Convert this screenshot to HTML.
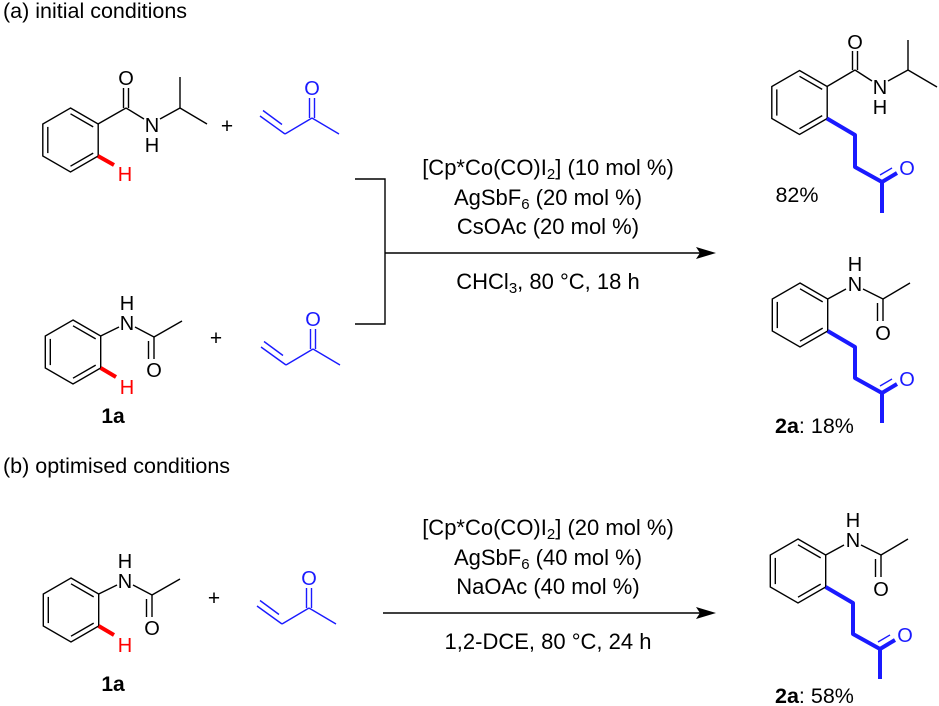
<!DOCTYPE html>
<html><head><meta charset="utf-8"><style>
html,body{margin:0;padding:0;background:#fff;}
svg{display:block;font-family:"Liberation Sans",Arial,sans-serif;}
</style></head><body>
<svg width="939" height="706" viewBox="0 0 939 706" xmlns="http://www.w3.org/2000/svg">
<defs>
<g id="ring" fill="none" stroke="#000" stroke-width="1.4">
<polygon points="0,-32 27.7,-16 27.7,16 0,32 -27.7,16 -27.7,-16"/>
<line x1="0" y1="-26.2" x2="22.7" y2="-13.1"/>
<line x1="22.7" y1="13.1" x2="0" y2="26.2"/>
<line x1="-22.7" y1="13.1" x2="-22.7" y2="-13.1"/>
</g>
<g id="mvk">
<g stroke="#1a1aff" stroke-width="1.4" fill="none">
<line x1="260" y1="116" x2="285" y2="134"/>
<line x1="263" y1="110.5" x2="282" y2="124.5"/>
<line x1="285" y1="134" x2="312" y2="118"/>
<line x1="309.5" y1="118" x2="309.5" y2="98"/>
<line x1="314.5" y1="118" x2="314.5" y2="98"/>
<line x1="312" y1="118" x2="339" y2="134"/>
</g>
<text x="312" y="95" font-size="20" fill="#1a1aff" text-anchor="middle">O</text>
</g>
<g id="acet">
<use href="#ring" x="73" y="352"/>
<g stroke="#000" stroke-width="1.4" fill="none">
<line x1="100.7" y1="336" x2="119" y2="327"/>
<line x1="135" y1="327" x2="154" y2="337"/>
<line x1="154" y1="337" x2="154" y2="359"/>
<line x1="148.5" y1="341" x2="148.5" y2="359"/>
<line x1="154" y1="337" x2="182" y2="321"/>
</g>
<line x1="100.7" y1="368" x2="116" y2="377" stroke="#ff0000" stroke-width="4"/>
<text x="127" y="330" font-size="20" text-anchor="middle">N</text>
<text x="127" y="310" font-size="20" text-anchor="middle">H</text>
<text x="154" y="377" font-size="20" text-anchor="middle">O</text>
<text x="127" y="394" font-size="20" text-anchor="middle" fill="#ff0000">H</text>
</g>
<g id="prod2a">
<use href="#ring" x="800" y="315"/>
<g stroke="#000" stroke-width="1.4" fill="none">
<line x1="827.7" y1="299" x2="846" y2="289"/>
<line x1="863" y1="289" x2="883" y2="299"/>
<line x1="883" y1="299" x2="883" y2="321"/>
<line x1="877.5" y1="303" x2="877.5" y2="321"/>
<line x1="883" y1="299" x2="910" y2="283"/>
</g>
<text x="855" y="291" font-size="20" text-anchor="middle">N</text>
<text x="855" y="271" font-size="20" text-anchor="middle">H</text>
<text x="883" y="340" font-size="20" text-anchor="middle">O</text>
<polyline points="827.7,331 855,347 855,378 882,393 882,423" fill="none" stroke="#1a1aff" stroke-width="4" stroke-linejoin="round"/>
<line x1="882" y1="393" x2="897" y2="384" stroke="#1a1aff" stroke-width="4"/>
<line x1="880" y1="386" x2="892" y2="379" stroke="#1a1aff" stroke-width="1.4"/>
<text x="907" y="386" font-size="20" text-anchor="middle" fill="#1a1aff">O</text>
</g>
</defs>

<text x="3" y="18" font-size="21.5">(a) initial conditions</text>
<text x="3" y="473" font-size="21.5">(b) optimised conditions</text>

<use href="#ring" x="70.5" y="140"/>
<g stroke="#000" stroke-width="1.4" fill="none">
<line x1="98" y1="124" x2="126" y2="108"/>
<line x1="123.5" y1="108" x2="123.5" y2="88"/>
<line x1="128.5" y1="108" x2="128.5" y2="88"/>
<line x1="126" y1="108" x2="144" y2="119"/>
<line x1="160" y1="119" x2="180" y2="108"/>
<line x1="180" y1="108" x2="180" y2="77"/>
<line x1="180" y1="108" x2="207" y2="124"/>
</g>
<line x1="98" y1="156" x2="114" y2="165" stroke="#ff0000" stroke-width="4"/>
<text x="126" y="85" font-size="20" text-anchor="middle">O</text>
<text x="152" y="132" font-size="20" text-anchor="middle">N</text>
<text x="152" y="152" font-size="20" text-anchor="middle">H</text>
<text x="125" y="181" font-size="20" text-anchor="middle" fill="#ff0000">H</text>
<text x="227" y="133" font-size="21" text-anchor="middle">+</text>
<use href="#mvk"/>

<use href="#acet"/>
<text x="216" y="345" font-size="21" text-anchor="middle">+</text>
<use href="#mvk" x="1" y="231"/>
<text x="113" y="423" font-size="21" font-weight="bold" text-anchor="middle">1a</text>

<g stroke="#000" stroke-width="1.4" fill="none">
<polyline points="355,179 385,179 385,324 355,324"/>
<line x1="385" y1="253" x2="700" y2="253"/>
<line x1="383" y1="613" x2="700" y2="613"/>
</g>
<polygon points="716,253 696,247 700,253 696,259" fill="#000"/>
<polygon points="716,613 696,607 700,613 696,619" fill="#000"/>

<g font-size="22" text-anchor="middle">
<text x="548" y="175">[Cp*Co(CO)I<tspan font-size="15" dy="4">2</tspan><tspan dy="-4">] (10 mol %)</tspan></text>
<text x="548" y="205">AgSbF<tspan font-size="15" dy="4">6</tspan><tspan dy="-4"> (20 mol %)</tspan></text>
<text x="548" y="234">CsOAc (20 mol %)</text>
<text x="548" y="289">CHCl<tspan font-size="15" dy="4">3</tspan><tspan dy="-4">, 80 °C, 18 h</tspan></text>
<text x="548" y="535">[Cp*Co(CO)I<tspan font-size="15" dy="4">2</tspan><tspan dy="-4">] (20 mol %)</tspan></text>
<text x="548" y="565">AgSbF<tspan font-size="15" dy="4">6</tspan><tspan dy="-4"> (40 mol %)</tspan></text>
<text x="548" y="594">NaOAc (40 mol %)</text>
<text x="548" y="649">1,2-DCE, 80 °C, 24 h</text>
</g>

<use href="#ring" x="799.5" y="102.5"/>
<g stroke="#000" stroke-width="1.4" fill="none">
<line x1="827" y1="86.5" x2="855" y2="70"/>
<line x1="852.5" y1="70" x2="852.5" y2="51"/>
<line x1="857.5" y1="70" x2="857.5" y2="51"/>
<line x1="855" y1="70" x2="872" y2="81"/>
<line x1="888" y1="81" x2="908" y2="70"/>
<line x1="908" y1="70" x2="908" y2="40"/>
<line x1="908" y1="70" x2="937" y2="87"/>
</g>
<text x="855" y="49" font-size="20" text-anchor="middle">O</text>
<text x="880" y="94" font-size="20" text-anchor="middle">N</text>
<text x="880" y="114" font-size="20" text-anchor="middle">H</text>
<polyline points="827,118.5 855,135 855,167 882,182 882,213" fill="none" stroke="#1a1aff" stroke-width="4" stroke-linejoin="round"/>
<line x1="882" y1="182" x2="897" y2="173" stroke="#1a1aff" stroke-width="4"/>
<line x1="880" y1="175" x2="892" y2="168" stroke="#1a1aff" stroke-width="1.4"/>
<text x="907" y="175" font-size="20" text-anchor="middle" fill="#1a1aff">O</text>
<text x="797" y="202" font-size="21.5" text-anchor="middle">82%</text>

<use href="#prod2a"/>
<text x="775" y="433" font-size="21.5"><tspan font-weight="bold">2a</tspan>: 18%</text>

<use href="#acet" x="-2" y="258"/>
<text x="214" y="605" font-size="21" text-anchor="middle">+</text>
<use href="#mvk" x="-3" y="490"/>
<text x="113" y="691" font-size="21" font-weight="bold" text-anchor="middle">1a</text>
<use href="#prod2a" x="-2" y="256"/>
<text x="775" y="703" font-size="21.5"><tspan font-weight="bold">2a</tspan>: 58%</text>
</svg>
</body></html>
